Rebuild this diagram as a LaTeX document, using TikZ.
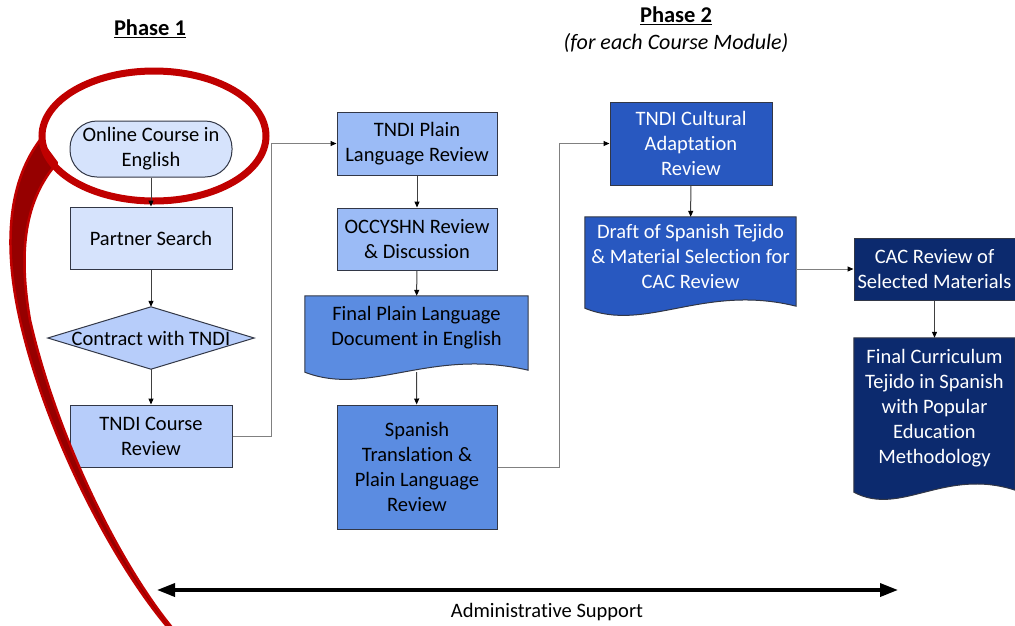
\documentclass[tikz,border=0pt]{standalone}
\usepackage{fontspec}
\setmainfont{Carlito}[Ligatures=NoCommon]
\usetikzlibrary{arrows.meta,calc,backgrounds}

\definecolor{boxA}{RGB}{214,227,252}
\definecolor{boxB}{RGB}{183,205,250}
\definecolor{boxC}{RGB}{155,187,246}
\definecolor{boxD}{RGB}{91,140,225}
\definecolor{boxE}{RGB}{40,88,192}
\definecolor{boxF}{RGB}{12,42,110}
\definecolor{boxline}{RGB}{50,55,70}
\definecolor{linkgray}{RGB}{64,64,64}
\definecolor{elbowgray}{RGB}{128,128,128}
\definecolor{calloutred}{RGB}{192,0,0}
\definecolor{calloutdark}{RGB}{150,0,0}

\begin{document}
\begin{tikzpicture}[x=1pt,y=1pt,yscale=-1,
  box/.style={draw=boxline,line width=1pt,align=center,inner sep=1pt,font=\fontsize{20.5}{25}\selectfont,minimum width=162pt,minimum height=62pt},
  plain/.style={draw=none,align=center,inner sep=1pt,font=\fontsize{20.5}{25}\selectfont},
  shapeline/.style={draw=boxline,line width=1pt},
  flow/.style={draw=linkgray,line width=1pt,-{Triangle[length=6pt,width=5pt,color=black]}},
  elbow/.style={flow,draw=elbowgray},
  head/.style={font=\fontsize{22.5}{27}\selectfont\bfseries}]
\useasboundingbox (0,0) rectangle (1015,625);

% Headers
\node (ph1) at (150,29) [head] {\underline{Phase 1}};
\node (ph2) at (676,16) [head] {\underline{Phase 2}};
\node (ph2sub) at (676,43) [font=\fontsize{22}{27}\selectfont\itshape] {(for each Course Module)};

% Phase 1 column
\node (oce) at (151,149) [box,fill=boxA,minimum height=56pt,rounded corners=27pt] {Online Course in\\English};
\node (ps) at (151,238) [box,fill=boxA] {Partner Search};
\node (ct) at (151,338) [plain,minimum width=206pt,minimum height=62pt] {Contract with TNDI};
\node (tcr) at (151,436) [box,fill=boxB] {TNDI Course\\Review};

% Phase 2, first column
\node (tpl) at (417,143.5) [box,fill=boxC,minimum width=160pt,minimum height=63pt] {TNDI Plain\\Language Review};
\node (orv) at (417,239) [box,fill=boxC,minimum width=160pt] {OCCYSHN Review\\\& Discussion};
\node (fpl) at (416.5,328) [plain,minimum width=223pt,minimum height=64pt] {Final Plain Language\\Document in English};
\node (stl) at (417,467) [box,fill=boxD,minimum width=160pt,minimum height=124pt] {Spanish\\Translation \&\\Plain Language\\Review};

% Phase 2, second column
\node (tca) at (691,143.5) [box,fill=boxE,text=white,minimum height=83pt] {TNDI Cultural\\Adaptation\\Review};
\node (dst) at (690.5,256) [plain,text=white,minimum width=211pt,minimum height=78pt] {Draft of Spanish Tejido\\\& Material Selection for\\CAC Review};
\node (cac) at (934.5,269) [box,fill=boxF,text=white,minimum width=161pt] {CAC Review of\\Selected Materials};
\node (fcs) at (934.5,408) [plain,text=white,minimum width=161pt,minimum height=140pt] {Final Curriculum\\Tejido in Spanish\\with Popular\\Education\\Methodology};

\begin{pgfonlayer}{background}
%Shape: Decision
\draw [shapeline,fill=boxB] (ct.north) -- (ct.east) -- (ct.south) -- (ct.west) -- cycle;
%Shape: Document
\draw [shapeline,fill=boxD] (fpl.north west) -- (fpl.north east) -- ($(fpl.south east)+(0,10)$) .. controls ($(fpl.south west)!0.56!(fpl.south east)+(0,-13)$) and ($(fpl.south west)!0.29!(fpl.south east)+(0,37)$) .. ($(fpl.south west)+(0,12)$) -- cycle;
%Shape: Document
\draw [shapeline,fill=boxE] (dst.north west) -- (dst.north east) -- ($(dst.south east)+(0,11)$) .. controls ($(dst.south west)!0.56!(dst.south east)+(0,-12)$) and ($(dst.south west)!0.29!(dst.south east)+(0,38)$) .. ($(dst.south west)+(0,13)$) -- cycle;
%Shape: Document
\draw [shapeline,fill=boxF] (fcs.north west) -- (fcs.north east) -- ($(fcs.south east)+(0,12)$) .. controls ($(fcs.south west)!0.56!(fcs.south east)+(0,-11)$) and ($(fcs.south west)!0.29!(fcs.south east)+(0,39)$) .. ($(fcs.south west)+(0,14)$) -- cycle;
\end{pgfonlayer}

% Callout
\draw [draw=calloutred,fill=calloutdark,line width=2.5pt,line join=round] (40,140) .. controls (10,180) and (2,240) .. (20,320) .. controls (45,430) and (110,560) .. (170,630) -- (174,630) .. controls (116,560) and (55,430) .. (30,320) .. controls (18,250) and (25,200) .. (57,163) -- cycle;
\draw [calloutred,line width=7pt] (154,136) ellipse [x radius=112, y radius=65];

% Connectors
\draw [flow] (oce) -- (ps);
\draw [flow] (ps) -- (ct);
\draw [flow] (ct) -- (tcr);
\draw [elbow] (tcr.east) -- ++(39,0) |- (tpl.west);
\draw [flow] (tpl) -- (orv);
\draw [flow] (orv) -- (fpl);
\draw [flow] ($(fpl.south)+(0,12)$) -- (stl);
\draw [elbow] (stl.east) -- ++(62,0) |- (tca.west);
\draw [flow] (tca) -- (dst);
\draw [elbow] (cac.west -| dst.east) -- (cac.west);
\draw [flow] (cac) -- (fcs);

% Administrative support
\coordinate (asl) at (157,590);
\coordinate (asr) at (898,590);
\draw [line width=3.5pt,{Triangle[length=18pt,width=13pt]}-{Triangle[length=18pt,width=13pt]}] (asl) -- (asr);
\node (ast) at (547,612) [plain] {Administrative Support};

\end{tikzpicture}
\end{document}
